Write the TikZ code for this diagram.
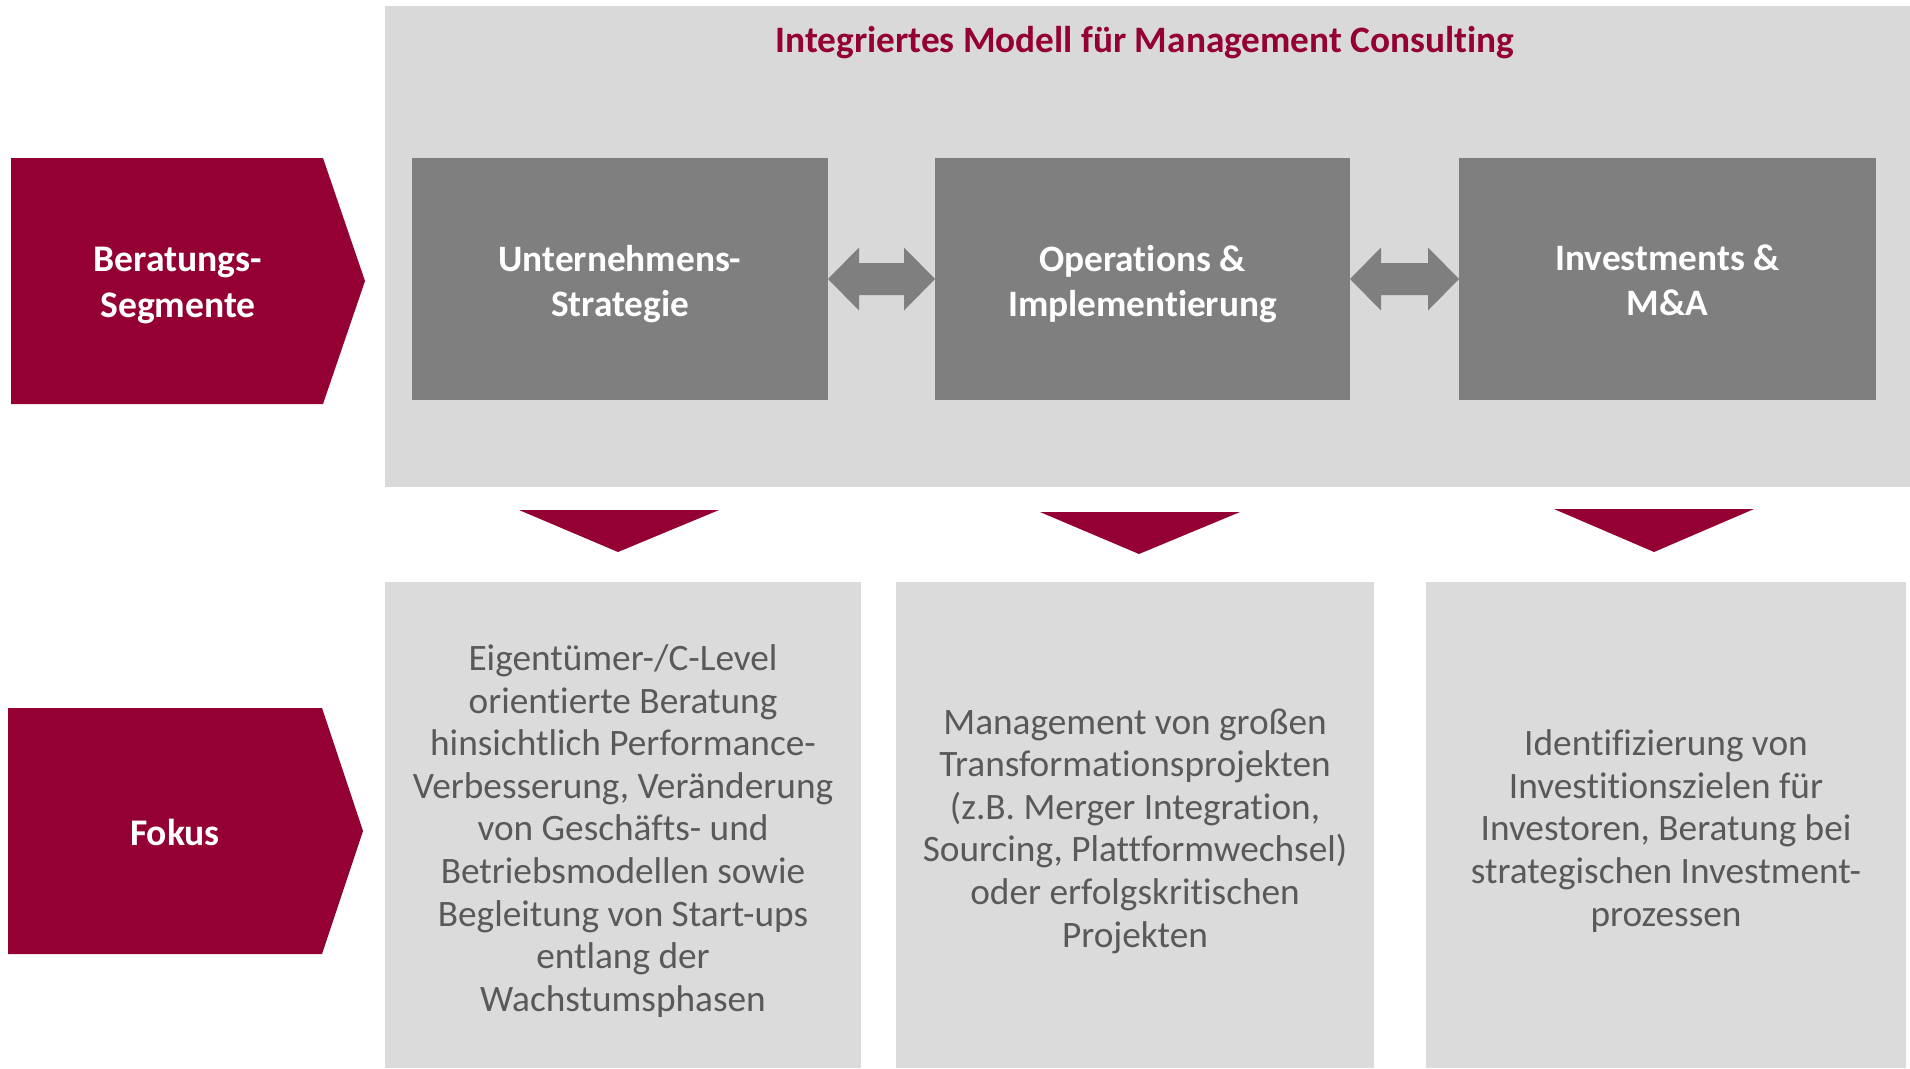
\documentclass[tikz,border=0pt]{standalone}
\usepackage{fontspec}
\setmainfont{Carlito}[Ligatures=NoCommon]
\usetikzlibrary{calc}
\definecolor{crim}{HTML}{940034}
\definecolor{dgray}{HTML}{7F7F7F}
\definecolor{lgray}{HTML}{D9D9D9}
\definecolor{bgray}{HTML}{DBDBDB}
\definecolor{tgray}{HTML}{595959}
\begin{document}
\begin{tikzpicture}[x=1pt,y=-1pt,
  darkbox/.style={fill=dgray, inner sep=0pt, outer sep=0pt, minimum width=416pt, minimum height=242pt,
    text=white, align=center, font=\fontsize{37.3}{45}\selectfont\bfseries},
  darktext/.style={darkbox, fill=none, minimum width=0pt, minimum height=0pt},
  focbox/.style={fill=bgray, inner sep=0pt, outer sep=0pt, minimum width=477pt, minimum height=486pt,
    text=tgray, align=center, font=\fontsize{37.3}{42.6}\selectfont},
  foctext/.style={focbox, fill=none, minimum width=0pt, minimum height=0pt},
  chevlabel/.style={text=white, align=center, font=\fontsize{37.6}{46}\selectfont\bfseries},
  crimfill/.style={fill=crim},
  dblarrow/.style={fill=dgray}
]
\useasboundingbox (0,0) rectangle (1910,1068);
\fill[white] (0,0) rectangle (1910,1068);

% top grey band
\fill[lgray] (385,6) rectangle (1910,487);
\node[text=crim, font=\fontsize{37.3}{44}\selectfont\bfseries] (title) at (1145,43) {Integriertes Modell für Management Consulting};

% left chevrons
\fill[crimfill] (11,158) -- (323,158) -- (365,281) -- (323,404) -- (11,404) -- cycle;
\node[chevlabel] (seg) at (178,285) {Beratungs-\\Segmente};
\fill[crimfill] (8,708) -- (322,708) -- (363,831) -- (322,954) -- (8,954) -- cycle;
\node[chevlabel] (fok) at (175,832) {Fokus};

% dark boxes
\node[darkbox] (u) at (620,279) {};
\node[darkbox, minimum width=415pt] (o) at (1142.5,279) {};
\node[darkbox, minimum width=417pt] (i) at (1667.5,279) {};
\node[darktext] (ut) at (620,284) {Unternehmens-\\Strategie};
\node[darktext] (ot) at (1142.5,284) {Operations \&\\Implementierung};
\node[darktext] (it) at (1667.5,280) {Investments \&\\M\&A};

% double arrows between boxes
\fill[dblarrow] (u.east) -- ++(31,-31.5) -- ++(0,15.5) -- ($(o.west)+(-31,-16)$) -- ++(0,-15.5)
  -- (o.west) -- ++(-31,31.5) -- ++(0,-15.5) -- ($(u.east)+(31,16)$) -- ++(0,15.5) -- cycle;
\fill[dblarrow] (o.east) -- ++(31,-31.5) -- ++(0,15.5) -- ($(i.west)+(-31,-16)$) -- ++(0,-15.5)
  -- (i.west) -- ++(-31,31.5) -- ++(0,-15.5) -- ($(o.east)+(31,16)$) -- ++(0,15.5) -- cycle;

% down triangles
\fill[crimfill] (519,510) -- (719,510) -- (618,552) -- cycle;
\fill[crimfill] (1040,512) -- (1240,512) -- (1139,554) -- cycle;
\fill[crimfill] (1554,509) -- (1754,509) -- (1654,552) -- cycle;

% bottom boxes
\fill[bgray] (385,582) rectangle (861,1068);
\fill[bgray] (896,582) rectangle (1374,1068);
\fill[bgray] (1426,582) rectangle (1906,1068);
\node[foctext] (f1) at (623,831) {Eigentümer-/C-Level\\orientierte Beratung\\hinsichtlich Performance-\\Verbesserung, Veränderung\\von Geschäfts- und\\Betriebsmodellen sowie\\Begleitung von Start-ups\\entlang der\\Wachstumsphasen};
\node[foctext] (f2) at (1135,831) {Management von großen\\Transformationsprojekten\\(z.B. Merger Integration,\\Sourcing, Plattformwechsel)\\oder erfolgskritischen\\Projekten};
\node[foctext] (f3) at (1666,831) {Identifizierung von\\Investitionszielen für\\Investoren, Beratung bei\\strategischen Investment-\\prozessen};
\end{tikzpicture}
\end{document}
